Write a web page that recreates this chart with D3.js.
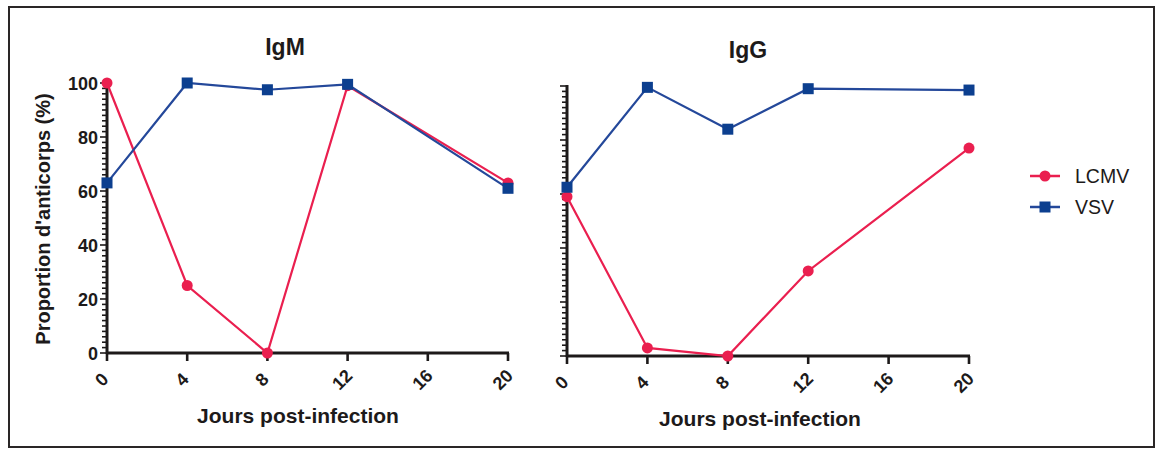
<!DOCTYPE html>
<html>
<head>
<meta charset="utf-8">
<script src="https://cdn.jsdelivr.net/npm/d3@7"></script>
<style>
  body { margin: 0; background: #fff; }
  svg { display: block; font-family: "Liberation Sans", Arial, sans-serif; }
</style>
</head>
<body>
<svg id="chart" width="1158" height="452"></svg>
<script>
// jours post-infection
const days = [0, 4, 8, 12, 20];
const xTicks = [0, 4, 8, 12, 16, 20];
const yTicks = [0, 20, 40, 60, 80, 100];

// IgM panel (%)
const igmLCMV = [100, 25, 0, 99, 63];
const igmVSV = [63, 100, 97.5, 99.5, 61];

// IgG panel (%)
const iggLCMV = [59, 3, 0, 31.5, 77];
const iggVSV = [62.5, 99.5, 84, 99, 98.5];

const seriesNames = ["LCMV", "VSV"];

const red = "#ea1f4f";
const blue = "#24489a";
const blueMark = "#0c3f8f";
const ink = "#1d1a1a";

const svg = d3.select("#chart");

// outer frame
svg.append("rect")
  .attr("x", 9).attr("y", 7)
  .attr("width", 1145).attr("height", 440)
  .attr("fill", "none")
  .attr("stroke", "#2a2626")
  .attr("stroke-width", 2);

const panels = [
  { title: "IgM", lcmv: igmLCMV, vsv: igmVSV, x0: 107, x1: 508, y0: 353, y1: 83, labels: true, titleY: 55, titleX: 285, xTitleX: 298 },
  { title: "IgG", lcmv: iggLCMV, vsv: iggVSV, x0: 567, x1: 969, y0: 356, y1: 86, labels: false, titleY: 58, titleX: 748, xTitleX: 760 }
];

panels.forEach(p => {
  const x = d3.scaleLinear().domain([0, 20]).range([p.x0, p.x1]);
  const y = d3.scaleLinear().domain([0, 100]).range([p.y0, p.y1]);
  const g = svg.append("g");

  // y axis with minor ticks every 2
  const yMinor = d3.range(0, 101, 2);
  g.append("g")
    .selectAll("line")
    .data(yMinor)
    .join("line")
    .attr("x1", p.x0 - 1)
    .attr("x2", d => d % 20 === 0 ? p.x0 - 7 : p.x0 - 5)
    .attr("y1", d => y(d)).attr("y2", d => y(d))
    .attr("stroke", ink)
    .attr("stroke-width", 1.6);

  g.append("line")
    .attr("x1", p.x0).attr("x2", p.x0)
    .attr("y1", y(0) + 1).attr("y2", y(100) - 1)
    .attr("stroke", ink).attr("stroke-width", 3);

  if (p.labels) {
    g.append("g")
      .selectAll("text")
      .data(yTicks)
      .join("text")
      .attr("x", p.x0 - 9)
      .attr("y", d => y(d) + 6.5)
      .attr("text-anchor", "end")
      .attr("font-size", 18)
      .attr("font-weight", "bold")
      .attr("fill", ink)
      .text(d => d);
  }

  // x axis
  g.append("line")
    .attr("x1", x(0) - 1).attr("x2", x(20) + 1)
    .attr("y1", p.y0).attr("y2", p.y0)
    .attr("stroke", ink).attr("stroke-width", 3);

  g.append("g")
    .selectAll("line")
    .data(xTicks)
    .join("line")
    .attr("x1", d => x(d)).attr("x2", d => x(d))
    .attr("y1", p.y0).attr("y2", p.y0 + 8)
    .attr("stroke", ink).attr("stroke-width", 2.6);

  g.append("g")
    .selectAll("text")
    .data(xTicks)
    .join("text")
    .attr("transform", d => `translate(${x(d) - 1},${p.y0 + 31}) rotate(-45)`)
    .attr("text-anchor", "middle")
    .attr("font-size", 18)
    .attr("font-weight", "bold")
    .attr("fill", ink)
    .text(d => d);

  g.append("text")
    .attr("x", p.xTitleX)
    .attr("y", p.y0 + 70)
    .attr("text-anchor", "middle")
    .attr("font-size", 21)
    .attr("font-weight", "bold")
    .attr("fill", ink)
    .text("Jours post-infection");

  g.append("text")
    .attr("x", p.titleX)
    .attr("y", p.titleY)
    .attr("text-anchor", "middle")
    .attr("font-size", 23)
    .attr("font-weight", "bold")
    .attr("fill", ink)
    .text(p.title);

  const line = d3.line().x((d, i) => x(days[i])).y(d => y(d));

  g.append("path")
    .datum(p.lcmv)
    .attr("d", line)
    .attr("fill", "none")
    .attr("stroke", red)
    .attr("stroke-width", 2.2);

  g.append("path")
    .datum(p.vsv)
    .attr("d", line)
    .attr("fill", "none")
    .attr("stroke", blue)
    .attr("stroke-width", 2.2);

  g.append("g")
    .selectAll("circle")
    .data(p.lcmv)
    .join("circle")
    .attr("cx", (d, i) => x(days[i]))
    .attr("cy", d => y(d))
    .attr("r", 5.5)
    .attr("fill", red);

  g.append("g")
    .selectAll("rect")
    .data(p.vsv)
    .join("rect")
    .attr("x", (d, i) => x(days[i]) - 5.5)
    .attr("y", d => y(d) - 5.5)
    .attr("width", 11).attr("height", 11)
    .attr("fill", blueMark);
});

// y axis title
svg.append("text")
  .attr("transform", "translate(50,219) rotate(-90)")
  .attr("text-anchor", "middle")
  .attr("font-size", 20)
  .attr("font-weight", "bold")
  .attr("fill", ink)
  .text("Proportion d'anticorps (%)");

// legend
const legend = svg.append("g");
seriesNames.forEach((name, i) => {
  const ly = 176 + i * 31;
  const col = i === 0 ? red : blue;
  legend.append("line")
    .attr("x1", 1030).attr("x2", 1060)
    .attr("y1", ly).attr("y2", ly)
    .attr("stroke", col).attr("stroke-width", 2.5);
  if (i === 0) {
    legend.append("circle").attr("cx", 1045).attr("cy", ly).attr("r", 5.5).attr("fill", red);
  } else {
    legend.append("rect").attr("x", 1039.5).attr("y", ly - 5.5).attr("width", 11).attr("height", 11).attr("fill", blueMark);
  }
  legend.append("text")
    .attr("x", 1075)
    .attr("y", ly + 7)
    .attr("font-size", 19.5)
    .attr("fill", ink)
    .text(name);
});
</script>
</body>
</html>
